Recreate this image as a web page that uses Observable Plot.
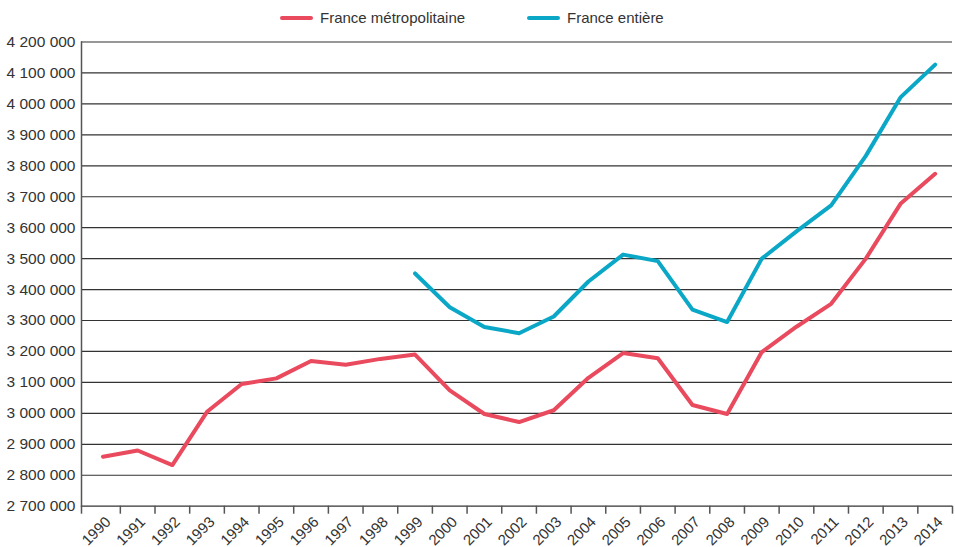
<!DOCTYPE html>
<html>
<head>
<meta charset="utf-8">
<script src="https://cdn.jsdelivr.net/npm/d3@7"></script>
<script src="https://cdn.jsdelivr.net/npm/@observablehq/plot@0.6"></script>
<style>
  html, body { margin: 0; padding: 0; background: #fff; }
  body { width: 955px; height: 547px; overflow: hidden; font-family: "Liberation Sans", Arial, sans-serif; color: #333; }
  #legend { position: relative; height: 30px; }
  .item { position: absolute; top: 6px; display: flex; align-items: center; font-size: 15px; line-height: 24px; }
  .sw { width: 33px; height: 4px; border-radius: 2px; margin-right: 7px; }
  #chart svg { display: block; }
</style>
</head>
<body>
<div id="legend"></div>
<div id="chart"></div>
<script>
// ---- data ----
const years = [1990, 1991, 1992, 1993, 1994, 1995, 1996, 1997, 1998, 1999, 2000, 2001, 2002,
               2003, 2004, 2005, 2006, 2007, 2008, 2009, 2010, 2011, 2012, 2013, 2014];
const metropole = [2860000, 2880000, 2833000, 3005000, 3095000, 3113000, 3169000, 3157000, 3176000,
                   3190000, 3074000, 2998000, 2972000, 3010000, 3115000, 3195000, 3178000, 3027000,
                   2998000, 3198000, 3280000, 3354000, 3500000, 3677000, 3774000];
const entiereYears = [1999, 2000, 2001, 2002, 2003, 2004, 2005, 2006, 2007, 2008, 2009, 2010, 2011, 2012, 2013, 2014];
const entiere = [3452000, 3343000, 3279000, 3259000, 3313000, 3426000, 3513000, 3492000, 3335000,
                 3295000, 3500000, 3588000, 3672000, 3832000, 4021000, 4127000];
const yTicks = [2700000, 2800000, 2900000, 3000000, 3100000, 3200000, 3300000, 3400000,
                3500000, 3600000, 3700000, 3800000, 3900000, 4000000, 4100000, 4200000];
const seriesNames = ["France métropolitaine", "France entière"];
const seriesColors = ["#e94a5e", "#0ba7c7"];

// ---- tables ----
const rows = [
  ...years.map((yr, i) => ({year: yr, value: metropole[i], series: seriesNames[0]})),
  ...entiereYears.map((yr, i) => ({year: yr, value: entiere[i], series: seriesNames[1]}))
];

// ---- legend ----
const legend = document.getElementById("legend");
const legendLeft = [280, 527];
seriesNames.forEach((name, i) => {
  const it = document.createElement("div");
  it.className = "item";
  it.style.left = legendLeft[i] + "px";
  it.innerHTML = `<span class="sw" style="background:${seriesColors[i]}"></span><span>${name}</span>`;
  legend.appendChild(it);
});

// ---- chart ----
const xDomain = [1989.38, 2014.5];
const boundaryTicks = [xDomain[0], ...years.map(y => y + 0.5)];
const fmt = v => d3.format(",")(v).replace(/,/g, " ");
const font = '"Liberation Sans", Arial, sans-serif';

const chart = Plot.plot({
  width: 955,
  height: 517,
  marginTop: 11.5,
  marginBottom: 41.3,
  marginLeft: 81,
  marginRight: 3,
  x: {type: "linear", domain: xDomain},
  y: {domain: [yTicks[0], yTicks[yTicks.length - 1]]},
  color: {domain: seriesNames, range: seriesColors},
  style: {fontFamily: font, fontSize: "15.5px", color: "#333", background: "#fff"},
  marks: [
    Plot.gridY(yTicks, {stroke: "#333", strokeOpacity: 1, strokeWidth: 1.2}),
    Plot.frame({anchor: "left", stroke: "#555", strokeWidth: 1.5}),
    Plot.axisY(yTicks, {tickSize: 0, tickPadding: 6, tickFormat: fmt, fontSize: 15.5, fill: "#333", label: null}),
    Plot.axisX(boundaryTicks, {tickSize: 8, stroke: "#555", strokeWidth: 1.5, tickFormat: () => "", label: null}),
    Plot.axisX(years, {tickSize: 0, tickPadding: 0, tickRotate: -45, textAnchor: "end", lineAnchor: "top",
                       dx: 1, dy: 9, tickFormat: d => String(d), fontSize: 15, fill: "#333", label: null}),
    Plot.line(rows, {x: "year", y: "value", stroke: "series", z: "series", strokeWidth: 4})
  ]
});
document.getElementById("chart").appendChild(chart);
</script>
</body>
</html>
